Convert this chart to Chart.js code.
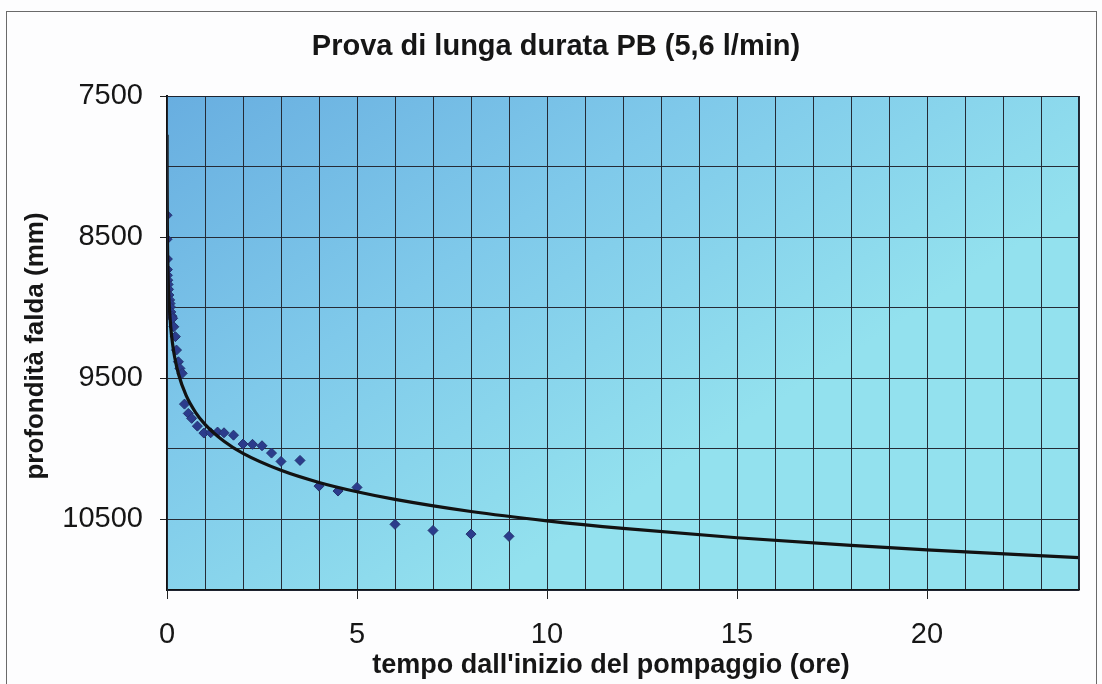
<!DOCTYPE html>
<html>
<head>
<meta charset="utf-8">
<script src="https://cdn.jsdelivr.net/npm/chart.js@4.4.1/dist/chart.umd.min.js"></script>
<style>
html,body{margin:0;padding:0;background:#fff;}
#wrap{width:1102px;height:684px;position:relative;}
</style>
</head>
<body>
<div id="wrap"><canvas id="c" width="1102" height="684"></canvas></div>
<script>
// ---- text ----
const chartTitle = 'Prova di lunga durata PB (5,6 l/min)';
const xAxisTitle = "tempo dall'inizio del pompaggio (ore)";
const yAxisTitle = 'profondità falda (mm)';

// ---- observed drawdown points (hours, mm) ----
const obsHours = [0.00, 0.00, 0.01, 0.01, 0.01, 0.02, 0.03, 0.04, 0.05, 0.07, 0.08, 0.09, 0.10, 0.13, 0.15, 0.18, 0.22, 0.25, 0.30, 0.34, 0.40,
                  0.46, 0.56, 0.65, 0.80, 0.97, 1.15, 1.33, 1.50, 1.75, 2.00, 2.25, 2.50, 2.75, 3.00, 3.50, 4.00, 4.50, 5.00, 6.00, 7.00, 8.00, 9.00];
const obsDepth = [8345, 8515, 8655, 8730, 8770, 8805, 8835, 8870, 8910, 8945, 8970, 8995, 9030, 9060, 9075, 9135, 9205, 9300, 9383, 9430, 9465,
                  9683, 9749, 9784, 9839, 9888, 9886, 9881, 9886, 9903, 9966, 9968, 9978, 10030, 10089, 10082, 10264, 10299, 10273, 10535, 10578, 10604, 10620];

// ---- trend line, values ----
const trendHours = [0.001, 0.003, 0.01, 0.03, 0.05, 0.1, 0.15, 0.2, 0.3, 0.5, 0.75, 1, 1.5, 2, 3, 4, 5, 6, 8, 10, 12, 15, 18, 20, 24];
const trendDepth = [7774, 8101, 8458, 8784, 8936, 9142, 9262, 9348, 9468, 9620, 9741, 9826, 9946, 10032, 10152, 10238, 10304, 10358, 10444, 10510, 10564, 10630, 10684, 10716, 10770];

// ---- tick labels ----
const xLabelTicks = [0, 5, 10, 15, 20];
const yLabelTicks = [7500, 8500, 9500, 10500];

const FONT = '"Liberation Sans", Arial, Helvetica, sans-serif';

const decor = {
  id: 'decor',
  beforeDraw(chart) {
    const ctx = chart.ctx, a = chart.chartArea;
    ctx.save();
    ctx.fillStyle = '#fdfdfe';
    ctx.fillRect(0, 0, chart.width, chart.height);
    ctx.strokeStyle = '#6a6a6a';
    ctx.lineWidth = 1;
    ctx.strokeRect(6.5, 11.5, 1090, 700);
    const w = a.right - a.left, h = a.bottom - a.top;
    const g = ctx.createLinearGradient(a.left, a.top, a.left + w * 0.35, a.bottom);
    g.addColorStop(0, '#68aee0');
    g.addColorStop(0.5, '#7fc9ea');
    g.addColorStop(1, '#93e1ee');
    ctx.fillStyle = g;
    ctx.fillRect(a.left, a.top, w, h);
    ctx.restore();
  },
  afterDraw(chart) {
    const ctx = chart.ctx, a = chart.chartArea;
    ctx.save();
    ctx.strokeStyle = '#1e2430';
    ctx.lineWidth = 1;
    ctx.strokeRect(a.left + 0.5, a.top + 0.5, a.right - a.left - 1, a.bottom - a.top);
    ctx.fillStyle = '#161616';
    ctx.textAlign = 'center';
    ctx.textBaseline = 'middle';
    ctx.font = 'bold 29px ' + FONT;
    ctx.fillText(chartTitle, 556, 47);
    ctx.font = 'bold 27px ' + FONT;
    ctx.fillText(xAxisTitle, 611, 666);
    ctx.font = 'bold 26px ' + FONT;
    ctx.translate(36, 346);
    ctx.rotate(-Math.PI / 2);
    ctx.fillText(yAxisTitle, 0, 0);
    ctx.restore();
  }
};

const chart = new Chart(document.getElementById('c'), {
  type: 'scatter',
  data: {
    datasets: [
      {
        label: 'tendenza',
        data: trendHours.map((h, i) => ({ x: h, y: trendDepth[i] })),
        showLine: true,
        borderColor: '#121212',
        borderWidth: 3.2,
        pointRadius: 0,
        cubicInterpolationMode: 'monotone',
        order: 0
      },
      {
        label: 'misure',
        data: obsHours.map((h, i) => ({ x: h, y: obsDepth[i] })),
        showLine: false,
        pointStyle: 'rectRot',
        pointRadius: 5,
        backgroundColor: '#2b3c8c',
        borderColor: '#25336f',
        borderWidth: 1,
        order: 1
      }
    ]
  },
  options: {
    responsive: false,
    devicePixelRatio: 1,
    animation: false,
    layout: { padding: { top: 96, right: 23, left: 0, bottom: 0 } },
    plugins: { legend: { display: false }, tooltip: { enabled: false }, title: { display: false } },
    scales: {
      x: {
        type: 'linear',
        min: 0, max: 24,
        ticks: {
          stepSize: 1, autoSkip: false, maxRotation: 0,
          color: '#161616',
          font: { family: FONT, size: 29 },
          padding: 19,
          callback: v => xLabelTicks.includes(v) ? String(v) : ''
        },
        grid: {
          color: '#252b36', lineWidth: 1, drawTicks: true, tickLength: 9,
          tickColor: c => (c.tick && xLabelTicks.includes(c.tick.value)) ? '#222' : 'rgba(0,0,0,0)'
        },
        border: { color: '#111', width: 1.5 },
        afterFit: s => { s.height = 94; }
      },
      y: {
        type: 'linear',
        reverse: true,
        min: 7500, max: 11000,
        ticks: {
          stepSize: 500, autoSkip: false,
          color: '#161616',
          font: { family: FONT, size: 29 },
          padding: 17,
          callback: v => yLabelTicks.includes(v) ? String(v) : ''
        },
        grid: {
          color: '#252b36', lineWidth: 1, drawTicks: true, tickLength: 7,
          tickColor: c => (c.tick && yLabelTicks.includes(c.tick.value)) ? '#222' : 'rgba(0,0,0,0)'
        },
        border: { color: '#111', width: 2 },
        afterFit: s => { s.width = 167; }
      }
    }
  },
  plugins: [decor]
});
</script>
</body>
</html>
